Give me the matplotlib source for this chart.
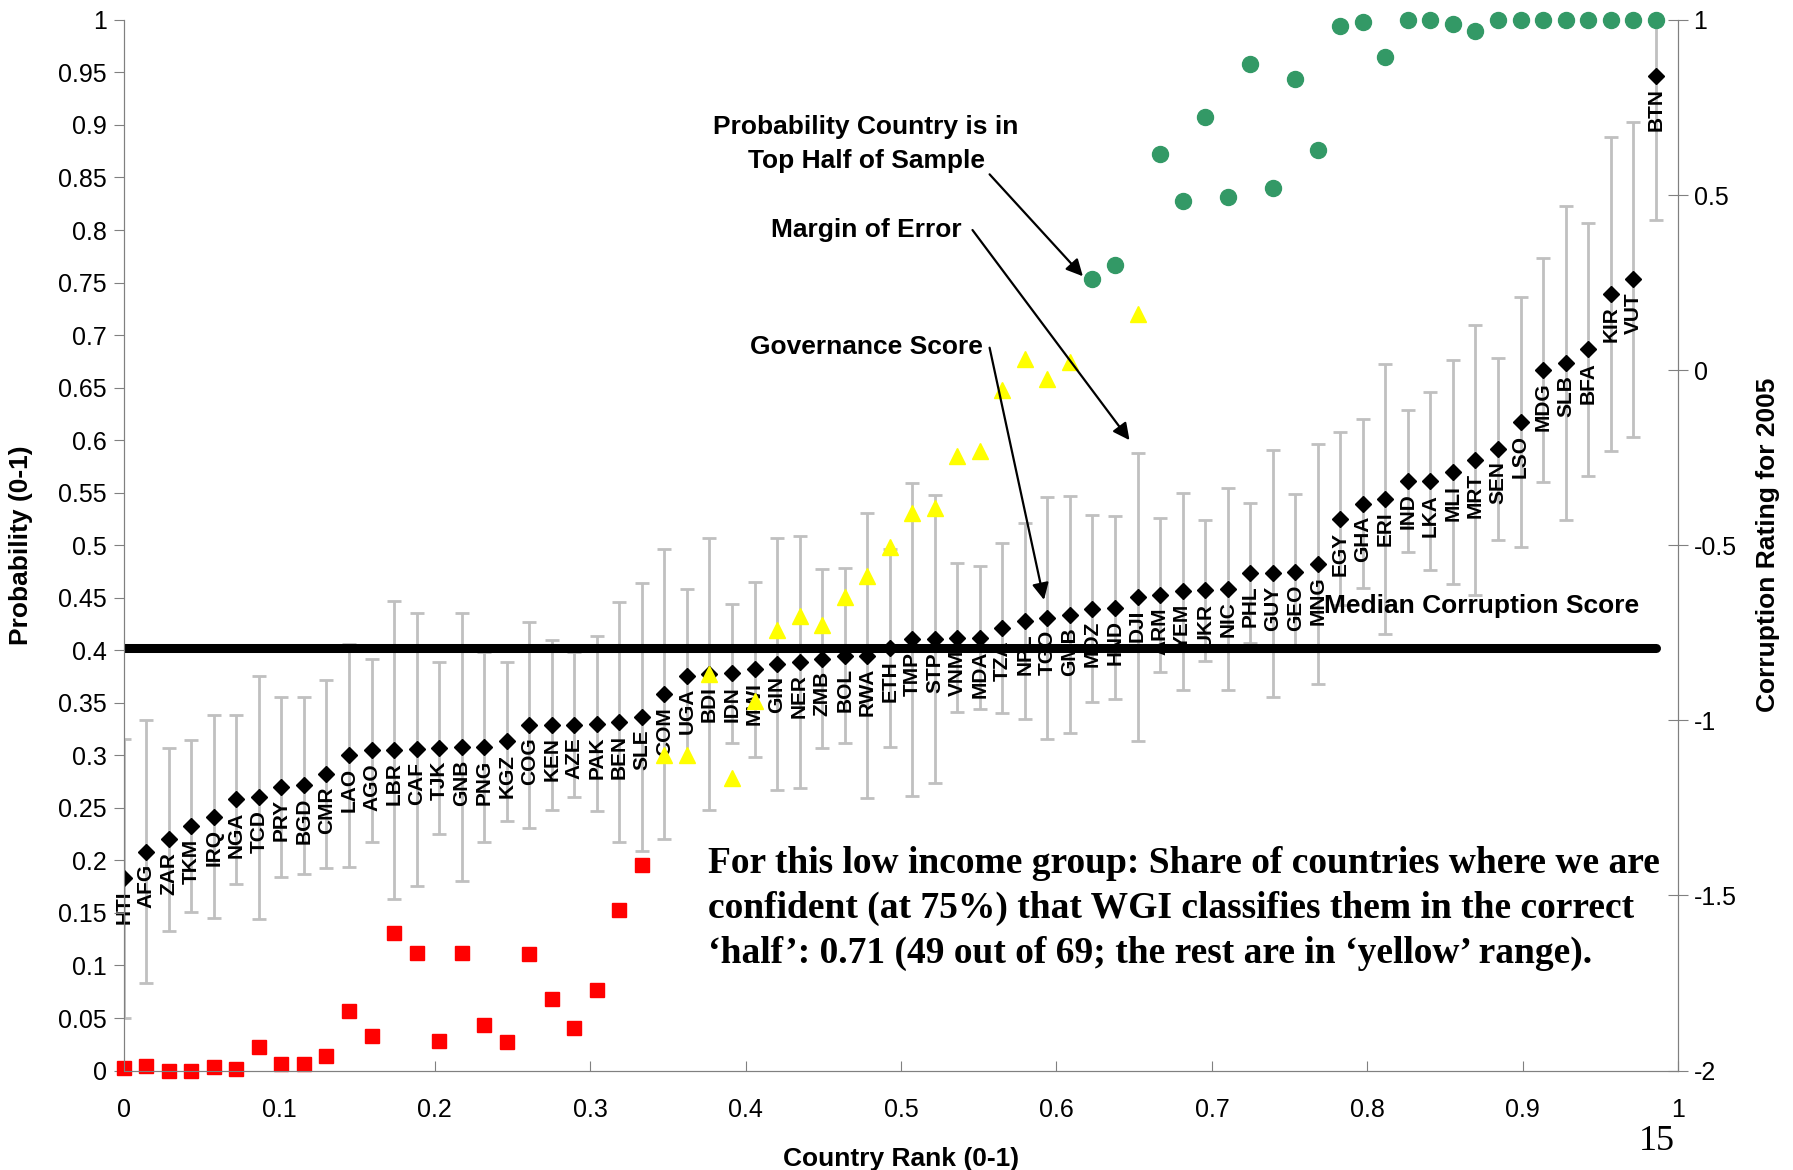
import numpy as np
import matplotlib
matplotlib.use("Agg")
import matplotlib.pyplot as plt

# low income group, sorted by 2005 corruption rating
countries = ["HTI", "AFG", "ZAR", "TKM", "IRQ", "NGA", "TCD", "PRY", "BGD", "CMR",
             "LAO", "AGO", "LBR", "CAF", "TJK", "GNB", "PNG", "KGZ", "COG", "KEN",
             "AZE", "PAK", "BEN", "SLE", "COM", "UGA", "BDI", "IDN", "MWI", "GIN",
             "NER", "ZMB", "BOL", "RWA", "ETH", "TMP", "STP", "VNM", "MDA", "TZA",
             "NPL", "TGO", "GMB", "MOZ", "HND", "DJI", "ARM", "YEM", "UKR", "NIC",
             "PHL", "GUY", "GEO", "MNG", "EGY", "GHA", "ERI", "IND", "LKA", "MLI",
             "MRT", "SEN", "LSO", "MDG", "SLB", "BFA", "KIR", "VUT", "BTN"]

score = [-1.451, -1.375, -1.34, -1.302, -1.275, -1.226, -1.22, -1.19, -1.185, -1.153,
         -1.10, -1.086, -1.085, -1.083, -1.079, -1.076, -1.076, -1.06, -1.013, -1.013,
         -1.013, -1.01, -1.005, -0.991, -0.926, -0.872, -0.867, -0.866, -0.854, -0.839,
         -0.833, -0.824, -0.815, -0.815, -0.794, -0.769, -0.769, -0.764, -0.764, -0.737,
         -0.716, -0.707, -0.698, -0.681, -0.678, -0.647, -0.641, -0.632, -0.629, -0.624,
         -0.58, -0.58, -0.576, -0.553, -0.425, -0.381, -0.368, -0.317, -0.317, -0.292,
         -0.257, -0.225, -0.149, 0.0, 0.02, 0.059, 0.217, 0.259, 0.841]

margin = [0.398, 0.375, 0.261, 0.245, 0.289, 0.24, 0.348, 0.258, 0.253, 0.268,
          0.318, 0.261, 0.426, 0.39, 0.246, 0.383, 0.27, 0.227, 0.294, 0.243,
          0.207, 0.25, 0.342, 0.382, 0.414, 0.246, 0.389, 0.198, 0.25, 0.36,
          0.36, 0.255, 0.249, 0.408, 0.282, 0.447, 0.411, 0.213, 0.204, 0.243,
          0.279, 0.345, 0.339, 0.267, 0.261, 0.411, 0.22, 0.282, 0.201, 0.288,
          0.2, 0.352, 0.223, 0.343, 0.247, 0.24, 0.385, 0.203, 0.255, 0.32,
          0.385, 0.261, 0.357, 0.32, 0.449, 0.36, 0.449, 0.45, 0.413]

# probability that country is in top half of sample
prob = [0.0025, 0.0047, 0.0, 0.0, 0.003, 0.001, 0.022, 0.006, 0.006, 0.0135,
        0.057, 0.0327, 0.131, 0.1116, 0.028, 0.1116, 0.043, 0.0273, 0.111, 0.068,
        0.0407, 0.077, 0.1527, 0.196, 0.30, 0.30, 0.377, 0.278, 0.352, 0.419,
        0.4325, 0.424, 0.451, 0.471, 0.4985, 0.531, 0.5356, 0.585, 0.590, 0.648,
        0.677, 0.658, 0.674, 0.753, 0.767, 0.72, 0.872, 0.828, 0.9076, 0.8315,
        0.9576, 0.840, 0.9435, 0.876, 0.9946, 0.998, 0.965, 1.0, 1.0, 0.9957,
        0.989, 1.0, 1.0, 1.0, 1.0, 1.0, 1.0, 1.0, 1.0]

n = len(countries)
rank = np.arange(n) / n
prob = np.array(prob)
score = np.array(score)
median_score = np.median(score)

plt.rcParams['font.family'] = ['Liberation Sans', 'DejaVu Sans']

fig = plt.figure(figsize=(17.93, 11.70), dpi=100)
ax = fig.add_axes([0.069, 0.085, 0.867, 0.898])
ax2 = ax.twinx()
ax.set_zorder(ax2.get_zorder() + 1)
ax.patch.set_visible(False)

# governance score with margin of error (right axis)
ax2.errorbar(rank, score, yerr=margin, fmt='none', ecolor='#c0c0c0',
             elinewidth=2.0, capsize=5, capthick=2.0, zorder=1)
ax2.plot(rank, score, 'D', color='black', ms=8.5, zorder=3)
for x, s, c in zip(rank, score, countries):
    ax2.annotate(c, (x, s), xytext=(0, -9), textcoords='offset points',
                 rotation=90, ha='center', va='top', fontsize=15,
                 fontweight='bold', zorder=2)
ax2.plot([rank[0], rank[-1]], [median_score, median_score], color='black',
         lw=6.5, solid_capstyle='round', zorder=4)
ax2.set_ylim(-2, 1)
ax2.set_yticks([-2, -1.5, -1, -0.5, 0, 0.5, 1])
ax2.set_yticklabels(['-2', '-1.5', '-1', '-0.5', '0', '0.5', '1'])
ax2.set_ylabel('Corruption Rating for 2005', fontsize=19, fontweight='bold',
               labelpad=14)

# probability markers (left axis)
red = prob < 0.25
green = prob > 0.75
yellow = ~red & ~green
ax.plot(rank[red], prob[red], 's', color='#ff0000', ms=10.5, clip_on=False)
ax.plot(rank[yellow], prob[yellow], '^', color='#ffff00', ms=11.5, clip_on=False)
ax.plot(rank[green], prob[green], 'o', color='#339966', ms=11.5, clip_on=False)

ax.set_xlim(0, 1)
ax.set_ylim(0, 1)
ax.set_xticks(np.arange(0, 1.01, 0.1))
ax.set_xticklabels([f'{v:g}' for v in np.arange(0, 1.01, 0.1).round(1)])
ax.set_yticks(np.arange(0, 1.001, 0.05))
ax.set_yticklabels([f'{v:g}' for v in np.arange(0, 1.001, 0.05).round(2)])
ax.set_xlabel('Country Rank (0-1)', fontsize=19, fontweight='bold', labelpad=18)
ax.set_ylabel('Probability (0-1)', fontsize=19, fontweight='bold', labelpad=18)

for a in (ax, ax2):
    a.spines['top'].set_visible(False)
    for sp in ('left', 'right', 'bottom'):
        a.spines[sp].set_color('#808080')
ax.tick_params(axis='y', direction='out', length=7, color='#808080',
               labelsize=18, pad=5)
ax.tick_params(axis='x', direction='in', length=7, color='#808080',
               labelsize=18, pad=20)
ax2.tick_params(axis='y', direction='inout', length=14, color='#808080',
                labelsize=18, pad=4)

# annotations
arrow = dict(arrowstyle='-|>', color='black', lw=1.6, mutation_scale=25,
             shrinkA=0, shrinkB=0)
ax.text(0.4775, 0.882, 'Probability Country is in\nTop Half of Sample',
        ha='center', va='center', fontsize=19, fontweight='bold', linespacing=1.5)
ax.annotate('', xy=(0.617, 0.756), xytext=(0.557, 0.853), arrowprops=arrow)
ax.text(0.4775, 0.800, 'Margin of Error', ha='center', va='center',
        fontsize=19, fontweight='bold')
ax.annotate('', xy=(0.647, 0.600), xytext=(0.546, 0.800), arrowprops=arrow)
ax.text(0.4775, 0.689, 'Governance Score', ha='center', va='center',
        fontsize=19, fontweight='bold')
ax.annotate('', xy=(0.592, 0.448), xytext=(0.557, 0.688), arrowprops=arrow)
ax.text(0.772, 0.442, 'Median Corruption Score', ha='left', va='center',
        fontsize=19, fontweight='bold')

ax.text(0.376, 0.214,
        'For this low income group: Share of countries where we are\n'
        'confident (at 75%) that WGI classifies them in the correct\n'
        '\u2018half\u2019: 0.71 (49 out of 69; the rest are in \u2018yellow\u2019 range).',
        ha='left', va='top', fontsize=27, fontweight='bold',
        family=['Liberation Serif', 'DejaVu Serif'], linespacing=1.38)

fig.text(0.924, 0.024, '15', ha='center', va='center', fontsize=26,
         family=['Liberation Serif', 'DejaVu Serif'])

fig.savefig('out.png', dpi=100)
